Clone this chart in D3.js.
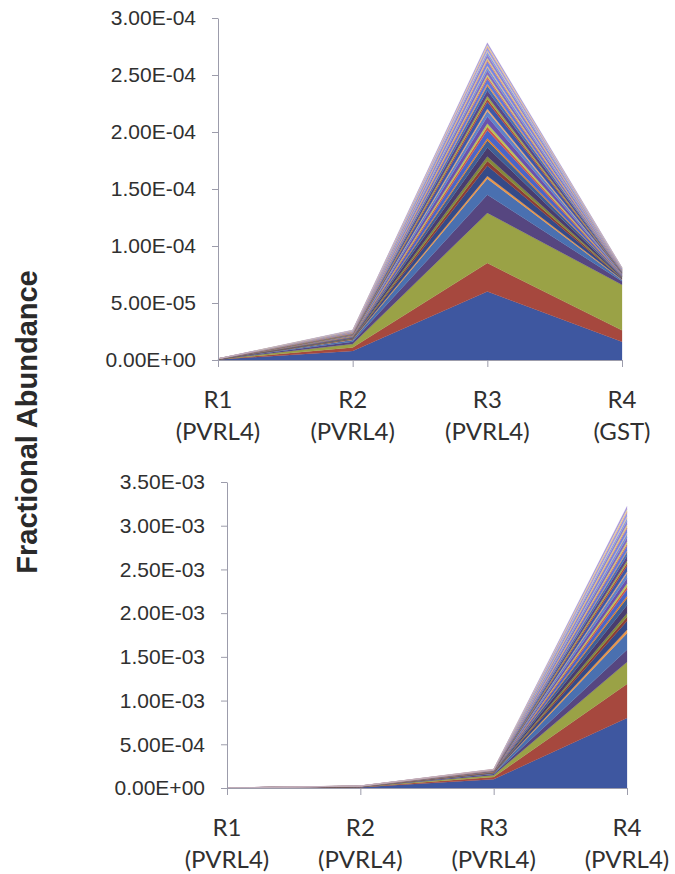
<!DOCTYPE html>
<html>
<head>
<meta charset="utf-8">
<script src="https://cdn.jsdelivr.net/npm/d3@7"></script>
<style>
  html, body { margin: 0; padding: 0; background: #ffffff; }
  svg { display: block; }
</style>
</head>
<body>
<svg id="chart" width="675" height="874"></svg>
<script>
// Rounds of selection (categories) and the target used in each round
const rounds = ["R1", "R2", "R3", "R4"];
const targetsTop = ["(PVRL4)", "(PVRL4)", "(PVRL4)", "(GST)"];
const targetsBottom = ["(PVRL4)", "(PVRL4)", "(PVRL4)", "(PVRL4)"];

// Fractional abundance of each clone, in units of 1e-6, one entry per clone (stack order, bottom first)
const abundanceUnit = 1e-6;

// Top panel
const topR1 = [0.4, 0.1, 0.1, 0.05, 0.05, 0.02,
  0.02, 0.02, 0.02, 0.02, 0.02, 0.01, 0.02, 0.02, 0.02, 0.02, 0.01, 0.01,
  0.01, 0.01, 0.01, 0.01, 0.01, 0.01, 0.01, 0.01, 0.01, 0.01, 0.01, 0.01,
  0.01, 0.01, 0.01, 0.01, 0.01, 0.01, 0.01, 0.01, 0.01, 0.01];
const topR2 = [8.0, 3.0, 3.0, 2.0, 1.5, 0.4,
  0.45, 0.4, 0.4, 0.35, 0.35, 0.15, 0.35, 0.3, 0.3, 0.3, 0.3, 0.12,
  0.3, 0.28, 0.28, 0.26, 0.25, 0.1, 0.25, 0.25, 0.24, 0.22, 0.22, 0.1,
  0.22, 0.2, 0.2, 0.2, 0.18, 0.18, 0.18, 0.16, 0.15, 0.14];
const topR3 = [60, 25, 44, 16, 14, 2.5,
  9.0, 4.0, 4.0, 8.0, 6.0, 2.0,
  7.0, 3.0, 3.0, 6.0, 5.0, 2.0,
  6.0, 2.5, 2.5, 5.0, 4.0, 1.8,
  4.5, 1.8, 1.8, 3.5, 3.0, 1.3,
  3.8, 1.5, 1.5, 3.0, 2.5, 1.2,
  2.5, 1.2, 1.1, 1.8];
const topR4 = [16, 10, 40, 3.0, 1.2, 0.5,
  0.7, 0.4, 0.4, 0.6, 0.5, 0.2,
  0.55, 0.3, 0.3, 0.45, 0.4, 0.15,
  0.45, 0.25, 0.25, 0.4, 0.35, 0.15,
  0.35, 0.2, 0.2, 0.3, 0.3, 0.12,
  0.3, 0.2, 0.2, 0.25, 0.25, 0.2,
  0.25, 0.15, 0.15, 0.2];

// Bottom panel
const bottomR1 = [0.5, 0.1, 0.1, 0.05, 0.05, 0.02,
  0.02, 0.02, 0.02, 0.02, 0.02, 0.01, 0.02, 0.02, 0.02, 0.02, 0.01, 0.01,
  0.01, 0.01, 0.01, 0.01, 0.01, 0.01, 0.01, 0.01, 0.01, 0.01, 0.01, 0.01,
  0.01, 0.01, 0.01, 0.01, 0.01, 0.01, 0.01, 0.01, 0.01, 0.01];
const bottomR2 = [8.0, 3.0, 2.0, 1.5, 1.0, 0.3,
  0.45, 0.4, 0.4, 0.35, 0.35, 0.15, 0.35, 0.3, 0.3, 0.3, 0.3, 0.12,
  0.3, 0.28, 0.28, 0.26, 0.25, 0.1, 0.25, 0.25, 0.24, 0.22, 0.22, 0.1,
  0.22, 0.2, 0.2, 0.2, 0.18, 0.18, 0.18, 0.16, 0.15, 0.14];
const bottomR3 = [100, 25, 22, 12, 9, 2,
  2.8, 1.8, 1.8, 2.4, 2.2, 0.8,
  2.2, 1.5, 1.5, 1.9, 1.8, 0.7,
  1.8, 1.2, 1.2, 1.6, 1.5, 0.6,
  1.5, 1.0, 1.0, 1.4, 1.3, 0.5,
  1.2, 0.9, 0.9, 1.1, 1.0, 0.9,
  1.0, 0.7, 0.6, 0.8];
const bottomR4 = [800, 390, 250, 140, 190, 40,
  100, 45, 45, 90, 80, 25,
  75, 35, 35, 60, 55, 20,
  65, 30, 30, 55, 45, 15,
  55, 25, 25, 45, 40, 15,
  50, 22, 22, 40, 35, 20,
  40, 20, 18, 34];

// Y axis ticks and their printed labels
const topTicks = [0, 5e-5, 1e-4, 1.5e-4, 2e-4, 2.5e-4, 3e-4];
const topTickLabels = ["0.00E+00", "5.00E-05", "1.00E-04", "1.50E-04", "2.00E-04", "2.50E-04", "3.00E-04"];
const bottomTicks = [0, 5e-4, 1e-3, 1.5e-3, 2e-3, 2.5e-3, 3e-3, 3.5e-3];
const bottomTickLabels = ["0.00E+00", "5.00E-04", "1.00E-03", "1.50E-03", "2.00E-03", "2.50E-03", "3.00E-03", "3.50E-03"];

const yTitle = "Fractional Abundance";

// Office-style series colours: six accents, then darker / lighter variants per cycle
const accents = ["#3e57a0", "#a6483e", "#9aa246", "#564680", "#4a70b0", "#e8964a"];
function seriesColor(i) {
  const base = d3.hsl(accents[i % 6]);
  const cycle = Math.floor(i / 6);
  const c = base.copy();
  const tint = [0, 0, 0.18, 0.05, 0.32, 0.42, 0.55][Math.min(cycle, 6)];
  if (cycle === 1) { c.l = base.l * 0.85; }
  else if (cycle === 3) { c.l = base.l * 0.97; }
  if (tint > 0) {
    c.l = c.l + (1 - c.l) * tint;
    c.s = Math.min(0.8, base.s * (1 + tint * 1.2));
    if (i % 6 === 0 || i % 6 === 4) { c.h = base.h + 12 * tint; }
  }
  return c.formatHex();
}

const svg = d3.select("#chart");
const axisColor = "#9c9cab";
const textColor = "#303030";

function drawPanel(cfg) {
  const cols = [cfg.r1, cfg.r2, cfg.r3, cfg.r4];
  const keys = d3.range(cfg.r1.length);
  const rows = rounds.map((r, j) => {
    const row = { round: r };
    keys.forEach(k => { row[k] = cols[j][k] * abundanceUnit; });
    return row;
  });
  const stacked = d3.stack().keys(keys)(rows);

  const x = d3.scalePoint().domain(rounds).range([cfg.left, cfg.right]).padding(0);
  const y = d3.scaleLinear().domain([0, cfg.yMax]).range([cfg.bottom, cfg.top]);

  const g = svg.append("g");

  const area = d3.area()
    .x(d => x(d.data.round))
    .y0(d => y(d[0]))
    .y1(d => y(d[1]));

  g.append("g").selectAll("path")
    .data(stacked)
    .join("path")
    .attr("d", area)
    .attr("fill", (d, i) => seriesColor(i))
    .attr("stroke", (d, i) => seriesColor(i))
    .attr("stroke-width", 0.25);

  // Y axis
  const yAxis = d3.axisLeft(y)
    .tickValues(cfg.ticks)
    .tickFormat((d, i) => cfg.tickLabels[i])
    .tickSizeInner(6).tickSizeOuter(0).tickPadding(16);
  const ya = g.append("g").attr("transform", `translate(${cfg.left},0)`).call(yAxis);
  ya.select(".domain").attr("stroke", axisColor);
  ya.selectAll(".tick line").attr("stroke", axisColor);
  ya.selectAll(".tick text")
    .attr("fill", textColor)
    .style("font-family", "'Liberation Sans', Arial, sans-serif")
    .style("font-size", "21px");

  // X axis
  const xAxis = d3.axisBottom(x).tickSizeInner(7).tickSizeOuter(0).tickFormat("");
  const xa = g.append("g").attr("transform", `translate(0,${cfg.bottom})`).call(xAxis);
  xa.select(".domain").attr("stroke", axisColor);
  xa.selectAll(".tick line").attr("stroke", axisColor);

  // Two-line category labels
  const lbl = g.append("g")
    .style("font-family", "Lato, 'Open Sans', sans-serif")
    .style("font-size", "24px")
    .attr("fill", textColor)
    .attr("text-anchor", "middle");
  rounds.forEach((r, j) => {
    const t = lbl.append("text").attr("x", x(r));
    t.append("tspan").attr("x", x(r)).attr("y", cfg.bottom + cfg.label1).text(r);
    t.append("tspan").attr("x", x(r)).attr("y", cfg.bottom + cfg.label2).text(cfg.targets[j]);
  });
}

drawPanel({
  r1: topR1, r2: topR2, r3: topR3, r4: topR4,
  targets: targetsTop, ticks: topTicks, tickLabels: topTickLabels,
  yMax: 3e-4, left: 218, right: 622, top: 18, bottom: 360,
  label1: 48, label2: 80
});

drawPanel({
  r1: bottomR1, r2: bottomR2, r3: bottomR3, r4: bottomR4,
  targets: targetsBottom, ticks: bottomTicks, tickLabels: bottomTickLabels,
  yMax: 3.5e-3, left: 227, right: 627, top: 482, bottom: 788,
  label1: 48, label2: 80
});

// Shared y-axis title
svg.append("text")
  .attr("transform", "translate(37,422) rotate(-90)")
  .attr("text-anchor", "middle")
  .attr("fill", "#2a2a2a")
  .style("font-family", "'Liberation Sans', Arial, sans-serif")
  .style("font-weight", "bold")
  .style("font-size", "29px")
  .text(yTitle);
</script>
</body>
</html>
